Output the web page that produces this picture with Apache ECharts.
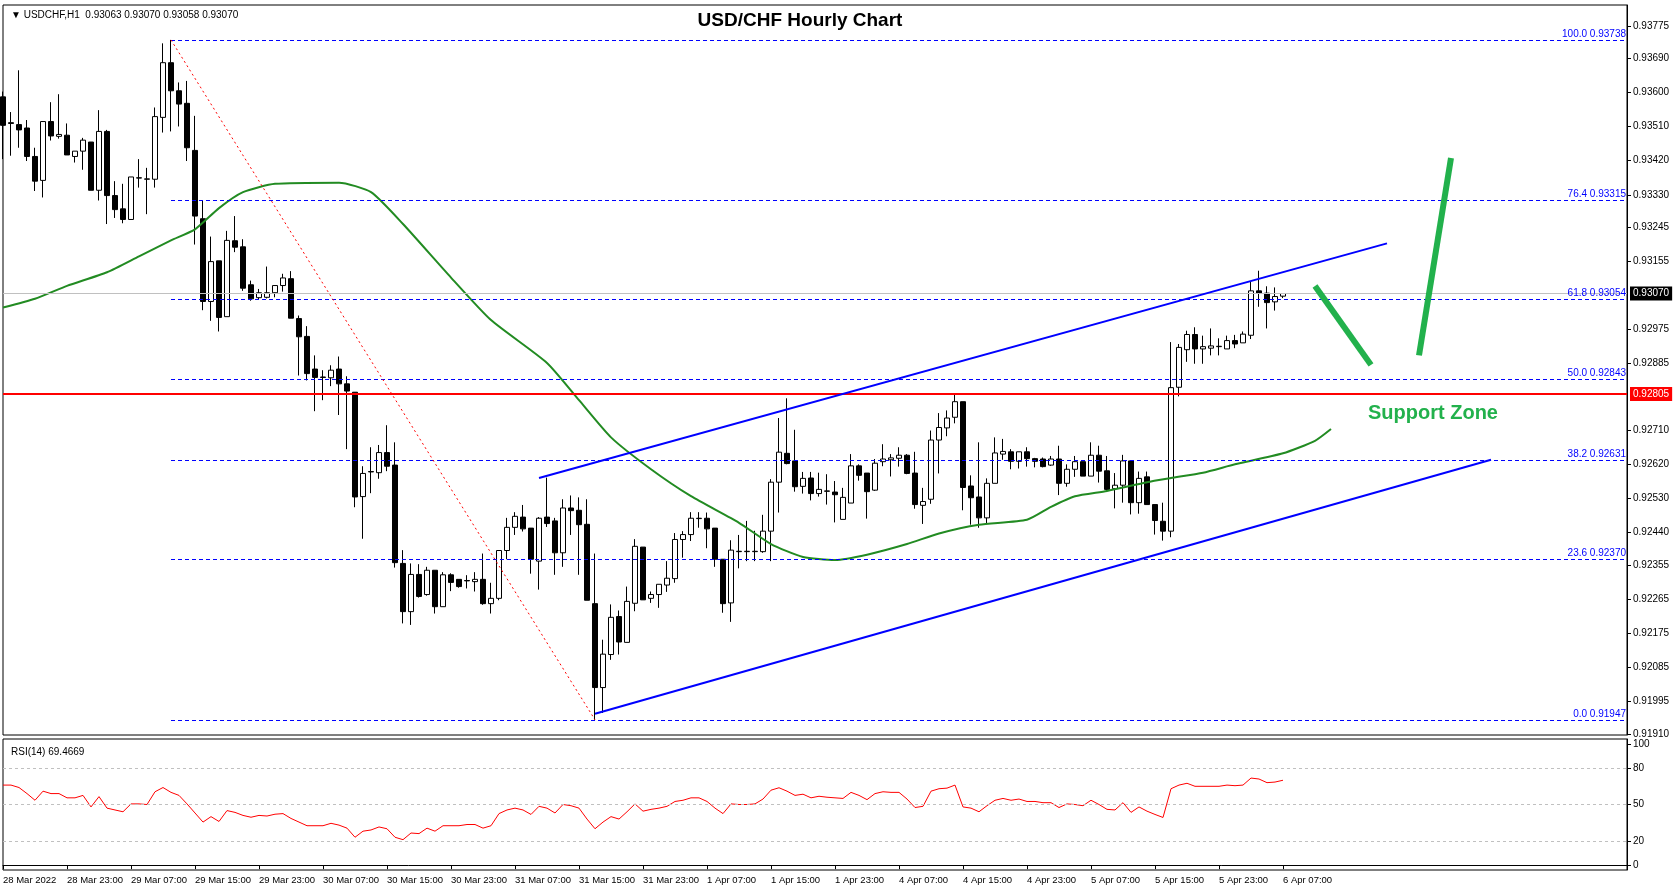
<!DOCTYPE html>
<html>
<head>
<meta charset="utf-8">
<script src="https://cdn.jsdelivr.net/npm/echarts@6/dist/echarts.min.js"></script>
<style>html,body{margin:0;padding:0;background:#fff}#chart{width:1673px;height:896px}</style>
</head>
<body>
<div id="chart"></div>
<script>
// hourly candles, 28 Mar 15:00 .. 6 Apr 07:00
var opens = [.93588,.93520,.93515,.93506,.93431,.93368,.93523,.93484,.93487,.93431,.93445,.93469,.93342,.93497,.93328,.93293,.93265,.93374,.93371,.93371,
  .93534,.93678,.93604,.93571,.93447,.93267,.93049,.93156,.93009,.93209,.93193,.93093,.93059,.93060,.93072,.93091,.93109,.93004,.92957,.92871,
  .92850,.92848,.92871,.92832,.92810,.92535,.92601,.92598,.92651,.92618,.92359,.92232,.92330,.92277,.92341,.92245,.92329,.92317,.92314,.92311,
  .92317,.92253,.92267,.92393,.92454,.92481,.92452,.92365,.92481,.92471,.92387,.92505,.92499,.92462,.92253,.92032,.92119,.92219,.92151,.92254,
  .92402,.92267,.92277,.92302,.92319,.92422,.92435,.92477,.92478,.92452,.92370,.92255,.92390,.92390,.92390,.92390,.92444,.92573,.92649,.92629,
  .92562,.92584,.92543,.92549,.92547,.92475,.92518,.92616,.92597,.92552,.92627,.92632,.92636,.92644,.92597,.92512,.92528,.92684,.92716,.92744,
  .92785,.92563,.92534,.92479,.92570,.92647,.92653,.92628,.92653,.92635,.92634,.92618,.92634,.92570,.92607,.92627,.92589,.92644,.92603,.92556,
  .92565,.92629,.92519,.92587,.92514,.92470,.92444,.92823,.92922,.92962,.92924,.92926,.92930,.92924,.92946,.92940,.92960,.93077,.93071,.93048,.93063];
var closes = [.93513,.93518,.93501,.93431,.93366,.93523,.93485,.93489,.93435,.93445,.93474,.93342,.93497,.93328,.93291,.93265,.93377,.93375,.93372,.93536,
  .93678,.93604,.93569,.93454,.93274,.93049,.93154,.93007,.93210,.93192,.93084,.93056,.93072,.93072,.93091,.93111,.93005,.92956,.92859,.92849,
  .92849,.92868,.92832,.92813,.92534,.92596,.92600,.92651,.92615,.92361,.92232,.92330,.92272,.92341,.92245,.92329,.92309,.92298,.92313,.92317,
  .92253,.92267,.92393,.92454,.92483,.92450,.92370,.92478,.92464,.92387,.92505,.92498,.92461,.92262,.92032,.92120,.92217,.92152,.92259,.92404,
  .92263,.92277,.92304,.92320,.92422,.92435,.92478,.92478,.92450,.92370,.92253,.92394,.92391,.92391,.92391,.92444,.92573,.92652,.92622,.92561,
  .92583,.92543,.92554,.92550,.92540,.92533,.92616,.92591,.92548,.92623,.92634,.92637,.92644,.92596,.92514,.92522,.92684,.92717,.92742,.92785,
  .92559,.92532,.92479,.92570,.92650,.92654,.92628,.92653,.92635,.92628,.92614,.92634,.92570,.92607,.92627,.92589,.92644,.92602,.92554,.92565,
  .92629,.92519,.92583,.92514,.92472,.92444,.92822,.92928,.92962,.92924,.92930,.92932,.92931,.92946,.92937,.92963,.93077,.93071,.93046,.93062,.93070];
var highs = [.93602,.93548,.93658,.93527,.93454,.93523,.93574,.93595,.93518,.93445,.93480,.93469,.93553,.93501,.93366,.93359,.93377,.93424,.93401,.93560,
  .93729,.93738,.93626,.93630,.93538,.93316,.93220,.93156,.93235,.93274,.93213,.93104,.93082,.93141,.93091,.93122,.93129,.93012,.92984,.92907,
  .92868,.92881,.92904,.92852,.92810,.92615,.92665,.92671,.92723,.92678,.92394,.92359,.92357,.92350,.92341,.92336,.92333,.92317,.92328,.92336,
  .92385,.92308,.92394,.92479,.92494,.92513,.92452,.92481,.92585,.92479,.92528,.92538,.92533,.92528,.92385,.92158,.92251,.92235,.92298,.92423,
  .92402,.92285,.92304,.92365,.92439,.92444,.92494,.92494,.92493,.92452,.92370,.92420,.92434,.92471,.92445,.92487,.92581,.92742,.92794,.92711,
  .92600,.92600,.92598,.92594,.92576,.92558,.92647,.92620,.92597,.92634,.92673,.92647,.92665,.92647,.92653,.92558,.92709,.92755,.92762,.92806,
  .92785,.92591,.92678,.92583,.92691,.92687,.92660,.92653,.92665,.92637,.92638,.92642,.92669,.92620,.92642,.92627,.92678,.92669,.92642,.92597,
  .92645,.92629,.92601,.92601,.92514,.92519,.92942,.92937,.92972,.92981,.92959,.92978,.92952,.92959,.92961,.92970,.93102,.93130,.93089,.93086,.93070];
var lows = [.93424,.93433,.93454,.93419,.93340,.93323,.93473,.93478,.93435,.93415,.93396,.93342,.93315,.93253,.93269,.93255,.93265,.93349,.93279,.93349,
  .93494,.93497,.93510,.93419,.93199,.93026,.92998,.92970,.93009,.93179,.93077,.93051,.93054,.93057,.93060,.93075,.93005,.92854,.92841,.92760,
  .92789,.92826,.92750,.92660,.92507,.92424,.92544,.92582,.92602,.92348,.92201,.92197,.92269,.92274,.92227,.92245,.92286,.92295,.92293,.92285,
  .92250,.92227,.92262,.92370,.92434,.92443,.92332,.92290,.92455,.92329,.92350,.92434,.92329,.92262,.91947,.91965,.92105,.92119,.92151,.92233,
  .92263,.92255,.92242,.92284,.92308,.92374,.92418,.92453,.92399,.92350,.92229,.92205,.92346,.92365,.92365,.92387,.92365,.92493,.92620,.92548,
  .92543,.92525,.92535,.92514,.92467,.92475,.92518,.92577,.92477,.92550,.92615,.92588,.92614,.92594,.92503,.92463,.92516,.92596,.92694,.92728,
  .92499,.92461,.92453,.92463,.92570,.92632,.92607,.92609,.92614,.92612,.92612,.92616,.92539,.92561,.92587,.92589,.92589,.92572,.92550,.92504,
  .92519,.92488,.92490,.92514,.92435,.92419,.92428,.92799,.92890,.92885,.92885,.92907,.92907,.92924,.92926,.92940,.92950,.93035,.92978,.93025,.93058];
var rsi = [66,66,64,59,53.5,61,59,59,55.5,55.5,57.5,48,56.5,47,45.5,44,50.5,50.5,50,60.5,
  64,60,57.5,50.5,43,35.5,40,36,45,43.5,41,39.5,41,40.5,42,42.5,38.5,35.5,32.5,32.5,
  32.5,34.5,33,30.5,23,28,29,31.5,30,23,21,26.5,26,30.5,28,32.5,32.5,32.5,33.5,33.5,
  30.5,32.5,42.5,45.5,47,45.5,41.8,48.5,47,43,50,49,47,38,30,35.5,40,38,44,50.5,
  44.5,46,47,48.5,52.5,53.5,55.5,55.5,52.5,47,42.5,50.5,50,50,50.5,54.5,61.8,63.8,61,57.5,
  58.5,55.5,56.8,56,55.5,55,60,57.5,54,59,60.5,60,60,54.5,47.5,48.5,61,63,63.5,66,
  48,47,44,49,53.5,55,53.5,54.5,52.5,52.5,51.5,51.5,47.5,50.5,50,49,53.5,50,46,45.5,
  51.5,43.5,48,44.5,41.8,39.3,63,66,67.5,65,65,65,65,66,65.5,66,71.8,71,68,68.5,70];
// shifted moving average, read as [bar, price]
var maLine = [[0,.93033],[4,.93056],[8,.93090],[13,.93126],[17,.93168],[21,.93210],[24,.93239],[27,.93295],[30,.93337],[34,.93359],
  [42,.93362],[46,.93337],[50,.93253],[56,.93112],[61,.93000],[68,.92887],[72,.92789],[76,.92691],[81,.92607],[86,.92536],
  [92,.92466],[96,.92410],[100,.92376],[104,.92368],[108,.92382],[113,.92410],[117,.92438],[122,.92461],[128,.92474],[131,.92508],
  [134,.92536],[138,.92550],[143,.92573],[146,.92584],[150,.92598],[154,.92620],[160,.92649],[164,.92682],[166,.92713]];
var fibLevels = [[100.0,.93738],[76.4,.93315],[61.8,.93054],[50.0,.92843],[38.2,.92631],[23.6,.92370],[0.0,.91947]];
var fibStart = 21;
var fibDiag = [[21,.93738],[74,.91947]];
var channelUpper = [[67,.92584],[173,.93202]];
var channelLower = [[74,.91963],[186,.92632]];
var arrowDown = [[164,.93090],[171,.92882]];
var arrowUp = [[177,.92907],[181,.93427]];
var supportLevel = .92805;
var lastPrice = .93070;
var priceTicks = [.93775,.93690,.93600,.93510,.93420,.93330,.93245,.93155,.92975,.92885,.92710,.92620,.92530,.92440,.92355,.92265,.92175,.92085,.91995,.91910];
var timeLabels = ['28 Mar 2022','28 Mar 23:00','29 Mar 07:00','29 Mar 15:00','29 Mar 23:00','30 Mar 07:00','30 Mar 15:00','30 Mar 23:00',
  '31 Mar 07:00','31 Mar 15:00','31 Mar 23:00','1 Apr 07:00','1 Apr 15:00','1 Apr 23:00','4 Apr 07:00','4 Apr 15:00','4 Apr 23:00',
  '5 Apr 07:00','5 Apr 15:00','5 Apr 23:00','6 Apr 07:00'];

var totalBars = 204;
var cats = [];
for (var i = 0; i < totalBars; i++) cats.push(i);
var candles = opens.map(function (o, k) { return [o, closes[k], lows[k], highs[k]]; });
var font = 'Liberation Sans';

var chart = echarts.init(document.getElementById('chart'));

function seg(pts, color, width, type) {
  return [{coord: pts[0], lineStyle: {color: color, width: width, type: type}, label: {show: false}}, {coord: pts[1]}];
}
function axisBox(price, bg, lineColor, width) {
  return [{coord: [0, price], name: price.toFixed(5), lineStyle: {color: lineColor, type: 'solid', width: width},
    label: {show: true, position: 'end', formatter: '{b}', color: '#fff', backgroundColor: bg, padding: [2, 3], distance: 3, fontSize: 10}},
    {coord: [totalBars - 1, price]}];
}
var fibLines = fibLevels.map(function (f) {
  return [{coord: [fibStart, f[1]], name: f[0].toFixed(1) + ' ' + f[1].toFixed(5)}, {coord: [totalBars - 1, f[1]]}];
});
var tickAt = function (idx) { return idx % 8 === 0 && idx <= 160; };

chart.setOption({
  animation: false,
  title: [
    {text: 'USD/CHF Hourly Chart', left: 795, top: 6, textAlign: 'center',
      textStyle: {fontFamily: font, fontSize: 19, fontWeight: 'bold', color: '#000'}},
    {text: '\u25BC USDCHF,H1  0.93063 0.93070 0.93058 0.93070', left: 6, top: 5,
      textStyle: {fontFamily: font, fontSize: 10, fontWeight: 'normal', color: '#000'}},
    {text: 'RSI(14) 69.4669', left: 6, top: 742,
      textStyle: {fontFamily: font, fontSize: 10, fontWeight: 'normal', color: '#000'}},
    {text: 'Support Zone', left: 1428, top: 398, textAlign: 'center',
      textStyle: {fontFamily: font, fontSize: 20, fontWeight: 'bold', color: '#22b14c'}}
  ],
  grid: [
    {left: 3, right: 46, top: 5, height: 730, show: true, borderColor: '#000', borderWidth: 1},
    {left: 3, right: 46, top: 739, height: 131, show: true, borderColor: '#000', borderWidth: 1}
  ],
  xAxis: [
    {type: 'category', gridIndex: 0, data: cats, boundaryGap: false,
      axisLine: {show: false}, axisTick: {show: false}, axisLabel: {show: false}, splitLine: {show: false}},
    {type: 'category', gridIndex: 1, data: cats, boundaryGap: false,
      axisLine: {lineStyle: {color: '#000'}},
      axisTick: {interval: tickAt, length: 4, lineStyle: {color: '#000'}},
      axisLabel: {interval: tickAt,
        formatter: function (v, idx) { return timeLabels[idx / 8] || ''; },
        fontFamily: font, fontSize: 9.5, color: '#000', margin: 5, align: 'left'},
      splitLine: {show: false}}
  ],
  yAxis: [
    {type: 'value', gridIndex: 0, position: 'right', min: .91907, max: .93830,
      axisLine: {show: true, lineStyle: {color: '#000'}},
      axisTick: {show: true, customValues: priceTicks, length: 4, lineStyle: {color: '#000'}},
      axisLabel: {customValues: priceTicks, formatter: function (v) { return v.toFixed(5); },
        fontFamily: font, fontSize: 10, color: '#000', margin: 6},
      splitLine: {show: false}},
    {type: 'value', gridIndex: 1, position: 'right', min: -4, max: 104,
      axisLine: {show: true, lineStyle: {color: '#000'}},
      axisTick: {show: true, customValues: [0, 20, 50, 80, 100], length: 4, lineStyle: {color: '#000'}},
      axisLabel: {customValues: [0, 20, 50, 80, 100], fontFamily: font, fontSize: 10, color: '#000', margin: 6},
      splitLine: {show: false}}
  ],
  series: [
    {type: 'candlestick', xAxisIndex: 0, yAxisIndex: 0, data: candles, barWidth: 5,
      itemStyle: {color: '#fff', color0: '#000', borderColor: '#000', borderColor0: '#000', borderWidth: 1},
      markLine: {silent: true, symbol: 'none', animation: false,
        lineStyle: {color: '#0000ff', type: [4, 3], width: 1},
        label: {show: true, formatter: '{b}', position: 'insideEndTop', distance: 1,
          fontFamily: font, fontSize: 10, color: '#0000ff'},
        data: fibLines.concat([
          axisBox(lastPrice, '#000', '#c0c0c0', 1),
          axisBox(supportLevel, '#ff0000', '#ff0000', 2),
          seg(fibDiag, '#ff0000', 1, [2, 3]),
          seg(channelUpper, '#0000ff', 2, 'solid'),
          seg(channelLower, '#0000ff', 2, 'solid'),
          seg(arrowDown, '#22b14c', 6, 'solid'),
          seg(arrowUp, '#22b14c', 6, 'solid')
        ])
      }
    },
    {type: 'line', xAxisIndex: 0, yAxisIndex: 0, data: maLine, smooth: 0.2, showSymbol: false,
      lineStyle: {color: '#228b22', width: 2}, z: 3},
    {type: 'line', xAxisIndex: 1, yAxisIndex: 1, data: rsi, showSymbol: false,
      lineStyle: {color: '#ff0000', width: 1},
      markLine: {silent: true, symbol: 'none', label: {show: false},
        lineStyle: {color: '#c0c0c0', type: [3, 3], width: 1},
        data: [{yAxis: 80}, {yAxis: 50}, {yAxis: 20}]}}
  ]
});
</script>
</body>
</html>
